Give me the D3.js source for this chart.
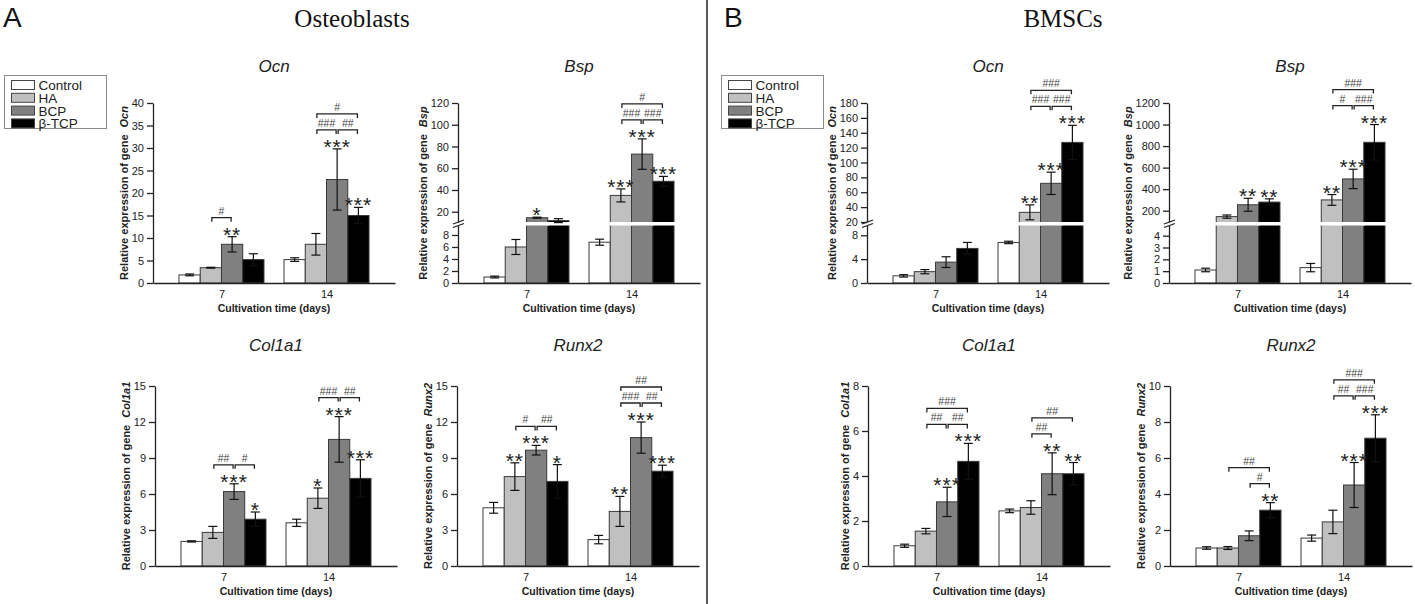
<!DOCTYPE html>
<html>
<head>
<meta charset="utf-8">
<script src="https://cdn.jsdelivr.net/npm/d3@7"></script>
<style>
body { margin: 0; background: #fff; }
svg text { font-family: Arial, "Liberation Sans", Helvetica, sans-serif; }
</style>
</head>
<body>
<svg id="fig" width="1415" height="604"></svg>
<script>
var groups = ["Control", "HA", "BCP", "β-TCP"];
var days = ["7", "14"];

// A - Osteoblasts
var obOcnTicks = [0, 5, 10, 15, 20, 25, 30, 35, 40];
var obOcnMean = [[1.8, 3.4, 8.6, 5.2], [5.2, 8.6, 23, 15]];
var obOcnSd = [[0.2, 0.1, 1.7, 1.3], [0.4, 2.4, 6.8, 1.8]];
var obOcnStars = [["", "", "**", ""], ["", "", "***", "***"]];
var obOcnHash = [[[1, 2, "#"]], [[1, 2, "###"], [2, 3, "##"], [1, 3, "#"]]];

var obBspTicksLow = [0, 2, 4, 6, 8];
var obBspTicksHigh = [20, 40, 60, 80, 100, 120];
var obBspMean = [[1.0, 6.0, 14.5, 11.8], [6.8, 35, 73, 48]];
var obBspSd = [[0.15, 1.25, 0.5, 1.8], [0.5, 6, 14, 4.5]];
var obBspStars = [["", "", "*", ""], ["", "***", "***", "***"]];
var obBspHash = [[], [[1, 2, "###"], [2, 3, "###"], [1, 3, "#"]]];

var obColTicks = [0, 3, 6, 9, 12, 15];
var obColMean = [[2.05, 2.8, 6.2, 3.9], [3.6, 5.65, 10.55, 7.3]];
var obColSd = [[0.05, 0.5, 0.65, 0.6], [0.3, 0.85, 1.9, 1.55]];
var obColStars = [["", "", "***", "*"], ["", "*", "***", "***"]];
var obColHash = [[[1, 2, "##"], [2, 3, "#"]], [[1, 2, "###"], [2, 3, "##"]]];

var obRunxTicks = [0, 3, 6, 9, 12, 15];
var obRunxMean = [[4.85, 7.45, 9.65, 7.05], [2.2, 4.55, 10.7, 7.9]];
var obRunxSd = [[0.45, 1.15, 0.4, 1.4], [0.35, 1.25, 1.3, 0.5]];
var obRunxStars = [["", "**", "***", "*"], ["", "**", "***", "***"]];
var obRunxHash = [[[1, 2, "#"], [2, 3, "##"]], [[1, 2, "###"], [2, 3, "##"], [1, 3, "##"]]];

// B - BMSCs
var msOcnTicksLow = [0, 4, 8];
var msOcnTicksHigh = [20, 40, 60, 80, 100, 120, 140, 160, 180];
var msOcnMean = [[1.2, 1.9, 3.5, 5.8], [6.8, 33, 72, 127]];
var msOcnSd = [[0.2, 0.35, 0.9, 1.0], [0.2, 10, 15, 23]];
var msOcnStars = [["", "", "", ""], ["", "**", "***", "***"]];
var msOcnHash = [[], [[1, 2, "###"], [2, 3, "###"], [1, 3, "###"]]];

var msBspTicksLow = [0, 1, 2, 3, 4];
var msBspTicksHigh = [200, 400, 600, 800, 1000, 1200];
var msBspMean = [[1.1, 145, 255, 280], [1.3, 300, 495, 835]];
var msBspSd = [[0.15, 15, 60, 30], [0.35, 50, 90, 165]];
var msBspStars = [["", "", "**", "**"], ["", "**", "***", "***"]];
var msBspHash = [[], [[1, 2, "#"], [2, 3, "###"], [1, 3, "###"]]];

var msColTicks = [0, 2, 4, 6, 8];
var msColMean = [[0.9, 1.55, 2.85, 4.65], [2.45, 2.6, 4.1, 4.1]];
var msColSd = [[0.07, 0.12, 0.65, 0.8], [0.08, 0.3, 0.93, 0.5]];
var msColStars = [["", "", "***", "***"], ["", "", "**", "**"]];
var msColHash = [[[1, 2, "##"], [2, 3, "##"], [1, 3, "###"]], [[1, 2, "##"], [1, 3, "##"]]];

var msRunxTicks = [0, 2, 4, 6, 8, 10];
var msRunxMean = [[1.0, 1.0, 1.68, 3.1], [1.55, 2.45, 4.5, 7.1]];
var msRunxSd = [[0.07, 0.08, 0.27, 0.42], [0.17, 0.65, 1.25, 1.3]];
var msRunxStars = [["", "", "", "**"], ["", "", "***", "***"]];
var msRunxHash = [[[2, 3, "#"], [1, 3, "##"]], [[1, 2, "##"], [2, 3, "###"], [1, 3, "###"]]];

var fills = ["#ffffff", "#c0c0c0", "#808080", "#000000"];
var axisWidth = 242;

var svg = d3.select("#fig");

function drawPanel(p) {
    var yBottom = p.row === 0 ? 283 : 566;
    var yTop = yBottom - 180;
    var breakTop = yBottom - 61, breakBottom = yBottom - 57.5;
    var g = svg.append("g");

    var x = d3.scalePoint().domain(days).range([p.x0, p.x0 + axisWidth]).padding(0.652);
    var xBar = d3.scaleBand().domain(groups).range([-42.5, 42.5]);
    var bw = xBar.bandwidth();

    var y, lower, upper;
    if (p.ticksHigh) {
        lower = d3.scaleLinear().domain([0, p.lowMax]).range([yBottom, breakBottom]);
        upper = d3.scaleLinear().domain([p.highMin, p.ticksHigh[p.ticksHigh.length - 1]]).range([breakTop, yTop]);
        y = function(v) { return v <= p.lowMax ? lower(v) : upper(v); };
    } else {
        y = d3.scaleLinear().domain([0, p.ticks[p.ticks.length - 1]]).range([yBottom, yTop]);
    }

    var bars = [];
    days.forEach(function(d, i) {
        groups.forEach(function(grp, j) {
            bars.push({ day: d, i: i, grp: grp, j: j, mean: p.mean[i][j], sd: p.sd[i][j], star: p.stars[i][j] });
        });
    });
    function left(b) { return x(b.day) + xBar(b.grp); }
    function cx(b) { return left(b) + bw / 2; }

    g.selectAll("rect.bar").data(bars).enter().append("rect")
        .attr("x", left)
        .attr("y", function(b) { return y(b.mean); })
        .attr("width", bw)
        .attr("height", function(b) { return yBottom - y(b.mean); })
        .style("fill", function(b) { return fills[b.j]; })
        .style("stroke", "#3a3a3a")
        .style("stroke-width", 1);

    if (p.ticksHigh) {
        g.selectAll("rect.gap").data(bars.filter(function(b) { return b.mean > p.lowMax; })).enter().append("rect")
            .attr("x", function(b) { return left(b) - 1; })
            .attr("y", breakTop)
            .attr("width", bw + 2)
            .attr("height", breakBottom - breakTop)
            .style("fill", "#fff");
    }

    // error bars
    var eb = g.selectAll("g.err").data(bars).enter().append("g")
        .style("stroke", "#111").style("stroke-width", 1.2);
    eb.append("line")
        .attr("x1", cx).attr("x2", cx)
        .attr("y1", function(b) { return y(b.mean - b.sd); })
        .attr("y2", function(b) { return y(b.mean + b.sd); });
    eb.append("line")
        .attr("x1", function(b) { return cx(b) - 4.5; }).attr("x2", function(b) { return cx(b) + 4.5; })
        .attr("y1", function(b) { return y(b.mean + b.sd); }).attr("y2", function(b) { return y(b.mean + b.sd); });
    eb.append("line")
        .attr("x1", function(b) { return cx(b) - 4.5; }).attr("x2", function(b) { return cx(b) + 4.5; })
        .attr("y1", function(b) { return y(b.mean - b.sd); }).attr("y2", function(b) { return y(b.mean - b.sd); });

    // significance stars
    g.selectAll("text.star").data(bars.filter(function(b) { return b.star; })).enter().append("text")
        .attr("x", cx)
        .attr("y", function(b) { return y(b.mean + b.sd) + 5; })
        .attr("text-anchor", "middle")
        .style("font-size", "21px")
        .style("letter-spacing", "1px")
        .style("fill", "#222")
        .text(function(b) { return b.star; });

    // brackets between groups
    days.forEach(function(d, i) {
        var list = p.hash[i];
        if (!list.length) return;
        var from = d3.min(list, function(h) { return h[0]; });
        var to = d3.max(list, function(h) { return h[1]; });
        var dayBars = bars.filter(function(b) { return b.i === i && b.j >= from && b.j <= to; });
        var base = d3.min(dayBars, function(b) { return y(b.mean + b.sd); }) - 19;
        list.forEach(function(h) {
            var x1 = cx(bars[i * 4 + h[0]]) + 1, x2 = cx(bars[i * 4 + h[1]]) - 1;
            var by = base - (h[1] - h[0] - 1) * 16;
            g.append("path")
                .attr("d", "M" + x1 + "," + (by + 4) + "V" + by + "H" + x2 + "V" + (by + 4))
                .style("fill", "none").style("stroke", "#222").style("stroke-width", 1.3);
            g.append("text")
                .attr("x", (x1 + x2) / 2).attr("y", by - 3)
                .attr("text-anchor", "middle")
                .style("font-size", "10.5px").style("fill", "#444")
                .text(h[2]);
        });
    });

    // axes
    var axes = g.append("g");
    function styleAxis(a) {
        a.attr("font-family", null).attr("font-size", null);
        a.selectAll("path, line").style("stroke", "#222").style("stroke-width", 1.3);
        a.selectAll("text").style("font-size", "11px").style("fill", "#222");
    }
    var fmt = d3.format("d");
    if (p.ticksHigh) {
        axes.append("g").attr("transform", "translate(" + p.x0 + ",0)")
            .call(d3.axisLeft(lower).tickValues(p.ticks).tickFormat(fmt).tickSize(6).tickSizeOuter(0).tickPadding(3))
            .call(styleAxis);
        axes.append("g").attr("transform", "translate(" + p.x0 + ",0)")
            .call(d3.axisLeft(upper).tickValues(p.ticksHigh).tickFormat(fmt).tickSize(6).tickSizeOuter(0).tickPadding(3))
            .call(styleAxis);
        [breakTop, breakBottom].forEach(function(yb) {
            g.append("line")
                .attr("x1", p.x0 - 5).attr("x2", p.x0 + 6)
                .attr("y1", yb + 2).attr("y2", yb - 2)
                .style("stroke", "#222").style("stroke-width", 1.3);
        });
    } else {
        axes.append("g").attr("transform", "translate(" + p.x0 + ",0)")
            .call(d3.axisLeft(y).tickValues(p.ticks).tickFormat(fmt).tickSize(6).tickSizeOuter(0).tickPadding(3))
            .call(styleAxis);
    }
    g.append("g").attr("transform", "translate(0," + yBottom + ")")
        .call(d3.axisBottom(x).tickSize(0).tickSizeOuter(0).tickPadding(7))
        .call(styleAxis);

    var box = axes.node().getBBox();
    var lbl = g.append("text")
        .attr("transform", "translate(" + (box.x - 4) + "," + ((yTop + yBottom) / 2) + ") rotate(-90)")
        .attr("text-anchor", "middle")
        .style("font-weight", "bold").style("font-size", "11px").style("fill", "#222");
    lbl.append("tspan").text("Relative expression of gene");
    lbl.append("tspan").attr("dx", 7).style("font-style", "italic").text(p.gene);

    g.append("text")
        .attr("x", p.x0 + axisWidth / 2).attr("y", yBottom + 29)
        .attr("text-anchor", "middle")
        .style("font-weight", "bold").style("font-size", "10.5px").style("fill", "#222")
        .text("Cultivation time (days)");

    g.append("text")
        .attr("x", p.x0 + axisWidth / 2).attr("y", p.row === 0 ? 72 : 351)
        .attr("text-anchor", "middle")
        .style("font-style", "italic").style("font-size", "17px").style("fill", "#222")
        .text(p.gene);
}

function drawLegend(lx, ly) {
    var lg = svg.append("g").attr("transform", "translate(" + lx + "," + ly + ")");
    lg.append("rect").attr("width", 102).attr("height", 53)
        .style("fill", "#fff").style("stroke", "#8a8a8a").style("stroke-width", 1);
    var item = lg.selectAll("g.item").data(groups).enter().append("g")
        .attr("transform", function(d, i) { return "translate(0," + (9.5 + i * 12.8) + ")"; });
    item.append("rect").attr("x", 7).attr("y", -4.5).attr("width", 23).attr("height", 9)
        .style("fill", function(d, i) { return fills[i]; })
        .style("stroke", "#444").style("stroke-width", 1);
    item.append("text").attr("x", 34).attr("y", 5)
        .style("font-size", "13.5px").style("fill", "#222")
        .text(function(d) { return d; });
}

var panels = [
    { gene: "Ocn", x0: 153, row: 0, ticks: obOcnTicks, mean: obOcnMean, sd: obOcnSd, stars: obOcnStars, hash: obOcnHash },
    { gene: "Bsp", x0: 458, row: 0, ticks: obBspTicksLow, ticksHigh: obBspTicksHigh, lowMax: 9.58, highMin: 10.55,
      mean: obBspMean, sd: obBspSd, stars: obBspStars, hash: obBspHash },
    { gene: "Col1a1", x0: 155, row: 1, ticks: obColTicks, mean: obColMean, sd: obColSd, stars: obColStars, hash: obColHash },
    { gene: "Runx2", x0: 457, row: 1, ticks: obRunxTicks, mean: obRunxMean, sd: obRunxSd, stars: obRunxStars, hash: obRunxHash },
    { gene: "Ocn", x0: 867, row: 0, ticks: msOcnTicksLow, ticksHigh: msOcnTicksHigh, lowMax: 9.64, highMin: 20,
      mean: msOcnMean, sd: msOcnSd, stars: msOcnStars, hash: msOcnHash },
    { gene: "Bsp", x0: 1169, row: 0, ticks: msBspTicksLow, ticksHigh: msBspTicksHigh, lowMax: 4.86, highMin: 95,
      mean: msBspMean, sd: msBspSd, stars: msBspStars, hash: msBspHash },
    { gene: "Col1a1", x0: 868, row: 1, ticks: msColTicks, mean: msColMean, sd: msColSd, stars: msColStars, hash: msColHash },
    { gene: "Runx2", x0: 1170, row: 1, ticks: msRunxTicks, mean: msRunxMean, sd: msRunxSd, stars: msRunxStars, hash: msRunxHash }
];

panels.forEach(drawPanel);

// headings, panel letters, divider
svg.append("text").attr("x", 3).attr("y", 27).style("font-size", "28px").style("fill", "#111").text("A");
svg.append("text").attr("x", 724).attr("y", 27).style("font-size", "28px").style("fill", "#111").text("B");
svg.append("text").attr("x", 352).attr("y", 27).attr("text-anchor", "middle")
    .style("font-family", "'Liberation Serif', 'Times New Roman', serif").style("font-size", "25px").style("fill", "#111")
    .text("Osteoblasts");
svg.append("text").attr("x", 1063).attr("y", 27).attr("text-anchor", "middle")
    .style("font-family", "'Liberation Serif', 'Times New Roman', serif").style("font-size", "25px").style("fill", "#111")
    .text("BMSCs");
svg.append("line").attr("x1", 707).attr("x2", 707).attr("y1", 0).attr("y2", 604)
    .style("stroke", "#222").style("stroke-width", 1.5);

drawLegend(4.5, 75.5);
drawLegend(721.5, 75.5);
</script>
</body>
</html>
